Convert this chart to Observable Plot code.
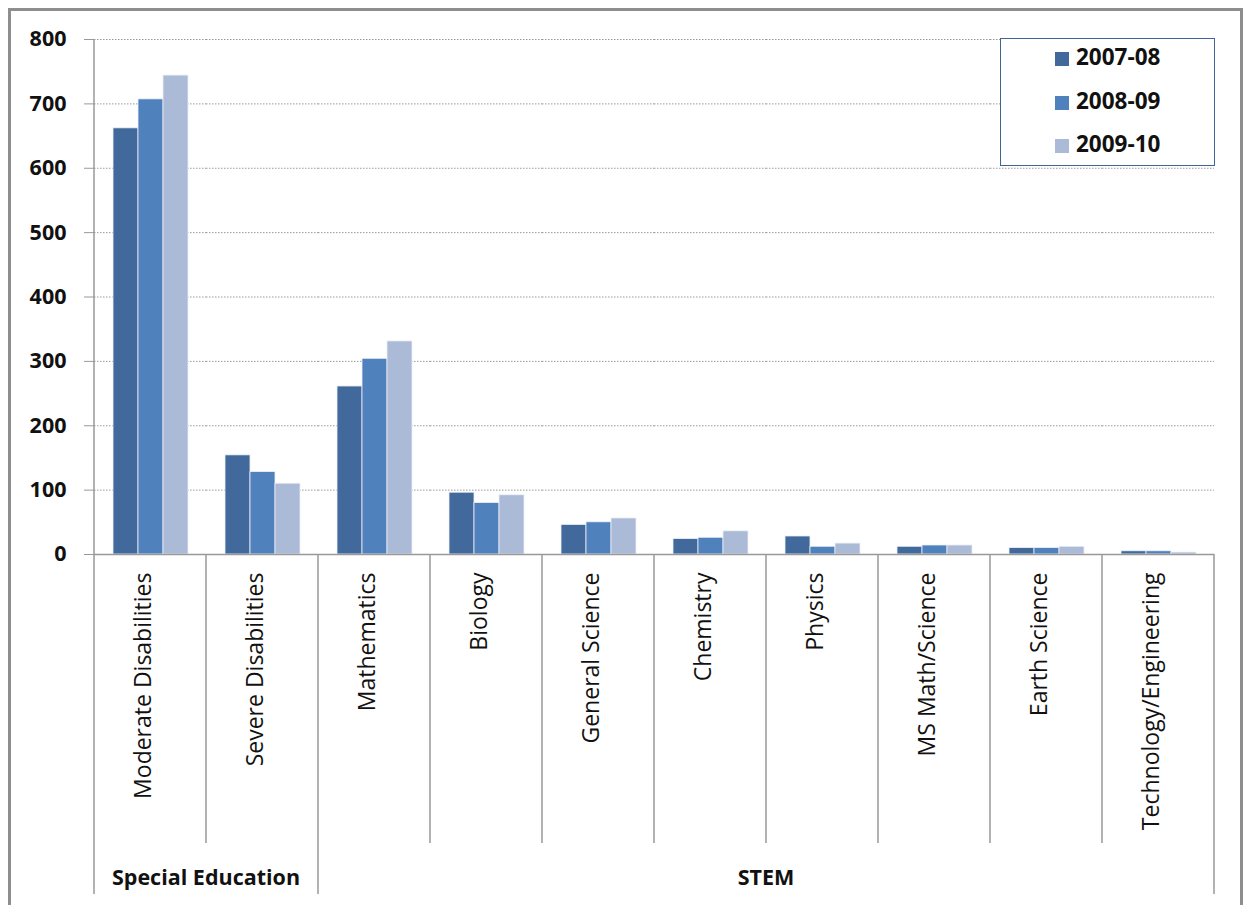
<!DOCTYPE html>
<html>
<head>
<meta charset="utf-8">
<script src="https://cdn.jsdelivr.net/npm/d3@7"></script>
<script src="https://cdn.jsdelivr.net/npm/@observablehq/plot@0.6"></script>
<style>
  html, body { margin: 0; padding: 0; background: white; }
  #wrap { position: relative; width: 1244px; height: 905px; overflow: hidden; font-family: "Open Sans", sans-serif; }
  #border { position: absolute; left: 8px; top: 8px; width: 1229px; height: 920px; border: 3px solid #8e8e8e; box-sizing: content-box; }
  #legend { position: absolute; left: 1000px; top: 38px; width: 213px; height: 126px; border: 1.5px solid #3f6596; background: white; }
  .item { position: absolute; left: 54px; font-weight: bold; font-size: 22.5px; color: #111; line-height: 24px; }
  .sw { display: inline-block; width: 14px; height: 14px; margin-right: 7px; vertical-align: -1px; }
  #chart { position: absolute; left: 0; top: 0; }
</style>
</head>
<body>
<div id="wrap">
  <div id="border"></div>
  <div id="chart"></div>
  <div id="legend"></div>
</div>
<script>
const categories = ["Moderate Disabilities","Severe Disabilities","Mathematics","Biology","General Science","Chemistry","Physics","MS Math/Science","Earth Science","Technology/Engineering"];
const groups = ["Special Education","Special Education","STEM","STEM","STEM","STEM","STEM","STEM","STEM","STEM"];
const years = ["2007-08","2008-09","2009-10"];
const v0708 = [662,154,261,96,46,24,28,12,10,5];
const v0809 = [707,128,304,80,50,26,12,14,10,5];
const v0910 = [744,110,331,92,56,36,17,14,12,3];
const colors = ["#41699b","#4f81bd","#aabad7"];
const yTicks = [0,100,200,300,400,500,600,700,800];

const series = [v0708, v0809, v0910];
const rows = [];
categories.forEach((c, i) => years.forEach((y, j) => rows.push({cat: c, year: y, value: series[j][i]})));
const catRows = categories.map((c, i) => ({cat: c, group: groups[i]}));

const plot = Plot.plot({
  width: 1244,
  height: 905,
  marginLeft: 92,
  marginRight: 29,
  marginTop: 39,
  marginBottom: 351,
  style: {fontFamily: "'Open Sans', sans-serif", fontSize: "20px", background: "transparent", color: "#111"},
  fx: {domain: categories, padding: 0, axis: null},
  x: {domain: years, paddingInner: 0, paddingOuter: 0.71, axis: null},
  y: {domain: [0, 800], axis: null},
  color: {domain: years, range: colors},
  marks: [
    Plot.ruleY(yTicks.slice(1), {stroke: "#999", strokeWidth: 1, strokeDasharray: "1.5,1.5"}),
    Plot.barY(rows, {fx: "cat", x: "year", y: "value", fill: "year", stroke: "#eef1f7", strokeWidth: 0.8}),
    Plot.ruleY([0], {stroke: "#999", strokeWidth: 1.5}),
    Plot.axisY({ticks: yTicks, label: null, tickSize: 10, tickPadding: 18, fontWeight: "bold", fontSize: 21.5, stroke: "#999", tickFormat: d3.format("d")}),
    Plot.text(catRows, {fx: "cat", text: "cat", frameAnchor: "bottom", dy: 18, rotate: -90, textAnchor: "end", fontSize: 23, fill: "#111"})
  ]
});
document.getElementById("chart").appendChild(plot);

// separators and group labels using the fx scale
const fx = plot.scale("fx");
const bw = fx.bandwidth;
const svg = d3.select(plot);
const yScale = plot.scale("y");
const y0 = yScale.apply(0);
const yTop = yScale.apply(800);
const g = svg.append("g");
g.append("line").attr("x1", fx.apply(categories[0])).attr("x2", fx.apply(categories[0]))
  .attr("y1", yTop).attr("y2", 894).attr("stroke", "#999").attr("stroke-width", 1.5);
categories.forEach((c, i) => {
  if (i === 0) return;
  const x = fx.apply(c);
  const long = groups[i] !== groups[i - 1];
  g.append("line").attr("x1", x).attr("x2", x).attr("y1", y0).attr("y2", long ? 894 : 843)
    .attr("stroke", "#999").attr("stroke-width", 1.5);
});
const xEnd = fx.apply(categories[categories.length - 1]) + bw;
g.append("line").attr("x1", xEnd).attr("x2", xEnd).attr("y1", y0).attr("y2", 894)
  .attr("stroke", "#999").attr("stroke-width", 1.5);
const groupNames = [...new Set(groups)];
groupNames.forEach(gn => {
  const idx = groups.map((d, i) => d === gn ? i : -1).filter(i => i >= 0);
  const x1 = fx.apply(categories[idx[0]]);
  const x2 = fx.apply(categories[idx[idx.length - 1]]) + bw;
  g.append("text").attr("x", (x1 + x2) / 2).attr("y", 885).attr("text-anchor", "middle")
    .attr("font-weight", "bold").attr("font-size", 21.5).attr("fill", "#111").text(gn);
});

const leg = document.getElementById("legend");
years.forEach((y, i) => {
  const d = document.createElement("div");
  d.className = "item";
  d.style.top = (6 + i * 43.5) + "px";
  d.innerHTML = `<span class="sw" style="background:${colors[i]}"></span>${y}`;
  leg.appendChild(d);
});
</script>
</body>
</html>
